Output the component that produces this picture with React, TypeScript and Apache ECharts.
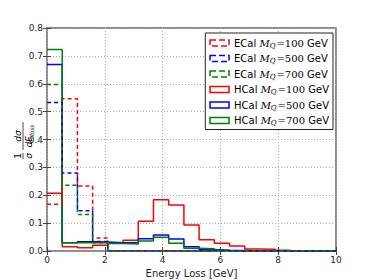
import React, { useEffect, useRef } from "react";
import * as echarts from "echarts";

const binEdges = [0, 0.526, 1.053, 1.579, 2.105, 2.632, 3.158, 3.684, 4.211, 4.737, 5.263, 5.789, 6.316, 6.842, 7.368, 7.895, 8.421, 8.947, 9.474, 10];

const ecal100 = [0.168, 0.546, 0.233, 0.047, 0, 0, 0, 0, 0, 0, 0, 0, 0, 0, 0, 0, 0, 0, 0];
const ecal500 = [0.533, 0.28, 0.144, 0.034, 0, 0, 0, 0, 0, 0, 0, 0, 0, 0, 0, 0, 0, 0, 0];
const ecal700 = [0.597, 0.236, 0.131, 0.03, 0, 0, 0, 0, 0, 0, 0, 0, 0, 0, 0, 0, 0, 0, 0];
const hcal100 = [0.207, 0.015, 0.012, 0.021, 0.028, 0.039, 0.107, 0.184, 0.165, 0.093, 0.04, 0.028, 0.018, 0.007, 0.006, 0.003, 0, 0, 0];
const hcal500 = [0.669, 0.03, 0.033, 0.032, 0.03, 0.03, 0.044, 0.057, 0.043, 0.015, 0.005, 0.003, 0.002, 0, 0, 0, 0, 0, 0];
const hcal700 = [0.723, 0.03, 0.03, 0.03, 0.027, 0.025, 0.036, 0.049, 0.028, 0.01, 0.008, 0.003, 0, 0, 0, 0, 0, 0, 0];

const xTicks = [0, 2, 4, 6, 8, 10];
const yTicks = [0, 0.1, 0.2, 0.3, 0.4, 0.5, 0.6, 0.7, 0.8];

const seriesDefs = [
  { name: "ECal 100", label: "ECal {i|M}{sub|Q}{m|=100} GeV", data: ecal100, color: "#ff0000", dashed: true },
  { name: "ECal 500", label: "ECal {i|M}{sub|Q}{m|=500} GeV", data: ecal500, color: "#0000ff", dashed: true },
  { name: "ECal 700", label: "ECal {i|M}{sub|Q}{m|=700} GeV", data: ecal700, color: "#007f00", dashed: true },
  { name: "HCal 100", label: "HCal {i|M}{sub|Q}{m|=100} GeV", data: hcal100, color: "#ff0000", dashed: false },
  { name: "HCal 500", label: "HCal {i|M}{sub|Q}{m|=500} GeV", data: hcal500, color: "#0000ff", dashed: false },
  { name: "HCal 700", label: "HCal {i|M}{sub|Q}{m|=700} GeV", data: hcal700, color: "#007f00", dashed: false },
];

const FONT = "DejaVu Sans";
const SERIF = "DejaVu Serif";

export default function App() {
  const ref = useRef<HTMLDivElement>(null);
  useEffect(() => {
    if (!ref.current) return;
    const chart = echarts.init(ref.current, undefined, { renderer: "svg" });
    const labelMap: Record<string, string> = {};
    seriesDefs.forEach((s) => (labelMap[s.name] = s.label));

    const series = seriesDefs.map((s) => {
      const pts: number[][] = s.data.map((v, i) => [binEdges[i], v]);
      pts.push([binEdges[binEdges.length - 1], s.data[s.data.length - 1]]);
      return {
        name: s.name,
        type: "line",
        step: "end",
        data: pts,
        symbol: "none",
        lineStyle: { color: s.color, width: 1.5, type: s.dashed ? [4, 3] : "solid" },
        itemStyle: { color: s.color },
        z: s.dashed ? 3 : 2,
      };
    });

    const axisLabel = { fontFamily: FONT, fontSize: 9, color: "#222" };

    chart.setOption({
      animation: false,
      backgroundColor: "#fff",
      grid: {
        left: 47, right: 38, top: 28, bottom: 29, containLabel: false, outerBoundsMode: "none",
        show: true, borderColor: "#666", borderWidth: 1.5, backgroundColor: "transparent",
      },
      xAxis: [
        {
          type: "value", min: 0, max: 10, interval: 2, position: "bottom",
          axisLine: { show: false },
          axisTick: { inside: true, length: 4, lineStyle: { color: "#444" } },
          axisLabel: { ...axisLabel, margin: 4, formatter: (v: number) => (xTicks.includes(v) ? String(v) : "") },
          splitLine: { show: true, lineStyle: { color: "#aaa", type: [1, 2], width: 1 } },
          name: "Energy Loss [GeV]", nameLocation: "middle", nameGap: 14,
          nameTextStyle: { fontFamily: FONT, fontSize: 10, color: "#222" },
        },
        {
          type: "value", min: 0, max: 10, interval: 2, position: "top",
          axisLine: { show: false },
          axisTick: { inside: true, length: 4, lineStyle: { color: "#444" } },
          axisLabel: { show: false }, splitLine: { show: false },
        },
      ],
      yAxis: [
        {
          type: "value", min: 0, max: 0.8, interval: 0.1, position: "left",
          axisLine: { show: false },
          axisTick: { inside: true, length: 4, lineStyle: { color: "#444" } },
          axisLabel: { ...axisLabel, margin: 4, formatter: (v: number) => {
            const t = yTicks.find((y) => Math.abs(y - v) < 1e-6);
            return t === undefined ? "" : t.toFixed(1);
          } },
          splitLine: { show: true, lineStyle: { color: "#aaa", type: [1, 2], width: 1 } },
        },
        {
          type: "value", min: 0, max: 0.8, interval: 0.1, position: "right",
          axisLine: { show: false },
          axisTick: { inside: true, length: 4, lineStyle: { color: "#444" } },
          axisLabel: { show: false }, splitLine: { show: false },
        },
      ],
      legend: {
        orient: "vertical",
        right: 41,
        top: 33,
        backgroundColor: "#fff",
        borderColor: "#222",
        borderWidth: 1,
        borderRadius: 0,
        padding: [4, 4, 3, 4],
        itemGap: 3.5,
        itemWidth: 19,
        itemHeight: 6,
        icon: "rect",
        data: seriesDefs.map((s) => ({
          name: s.name,
          icon: "rect",
          itemStyle: { color: "transparent", borderColor: s.color, borderWidth: 1.5, borderType: s.dashed ? "dashed" : "solid" },
          lineStyle: { opacity: 0 },
        })),
        formatter: (name: string) => labelMap[name],
        textStyle: {
          fontFamily: FONT, fontSize: 10, color: "#000", lineHeight: 12,
          rich: {
            i: { fontFamily: SERIF, fontStyle: "italic", fontSize: 10, color: "#000" },
            sub: { fontFamily: SERIF, fontStyle: "italic", fontSize: 7, color: "#000", padding: [5, 1, 0, 0] },
            m: { fontFamily: SERIF, fontSize: 10, color: "#000" },
          },
        },
      },
      graphic: [
        {
          type: "group",
          x: 23,
          y: 140,
          rotation: Math.PI / 2,
          children: [
            { type: "text", x: -16, y: -1, style: { text: "1", font: `9px ${FONT}`, align: "center", verticalAlign: "bottom", fill: "#000" } },
            { type: "line", shape: { x1: -19, y1: 0, x2: -13, y2: 0 }, style: { stroke: "#000", lineWidth: 0.7 } },
            { type: "text", x: -16, y: 1, style: { text: "σ", font: `italic 9px ${FONT}`, align: "center", verticalAlign: "top", fill: "#000" } },
            { type: "text", x: 4, y: -1, style: { text: "dσ", font: `italic 9px ${FONT}`, align: "center", verticalAlign: "bottom", fill: "#000" } },
            { type: "line", shape: { x1: -10, y1: 0, x2: 18, y2: 0 }, style: { stroke: "#000", lineWidth: 0.7 } },
            { type: "text", x: 4, y: 1, style: {
              text: "{a|dE}{b|loss}", align: "center", verticalAlign: "top",
              rich: {
                a: { fontFamily: FONT, fontStyle: "italic", fontSize: 9, color: "#000" },
                b: { fontFamily: FONT, fontStyle: "italic", fontSize: 6, color: "#000", padding: [4, 0, 0, 0] },
              },
            } },
          ],
        },
      ],
      series,
    });
    return () => chart.dispose();
  }, []);
  return <div ref={ref} style={{ position: "fixed", left: 0, top: 0, width: 374, height: 280 }} />;
}
